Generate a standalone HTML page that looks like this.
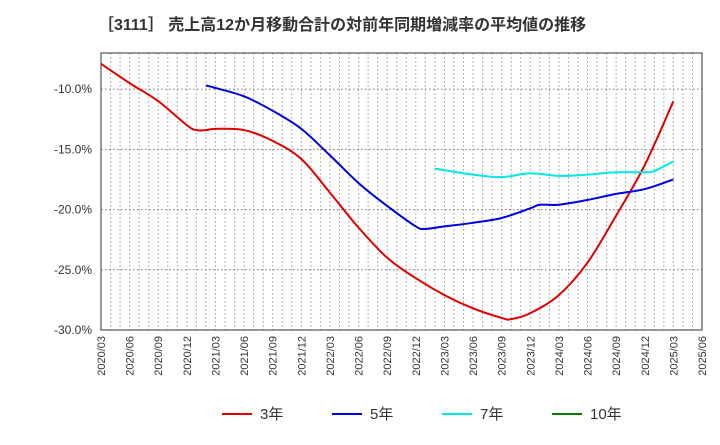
<!DOCTYPE html>
<html><head><meta charset="utf-8"><style>
body{margin:0;background:#fff;font-family:"Liberation Sans","Noto Sans CJK JP",sans-serif}
</style></head><body>
<svg id="c" width="720" height="440" xmlns="http://www.w3.org/2000/svg" font-family="Liberation Sans, Noto Sans CJK JP, sans-serif">
<text x="98" y="30" font-size="16" font-weight="bold" fill="#333">［3111］ 売上高12か月移動合計の対前年同期増減率の平均値の推移</text>
</svg>
<script>
const xTicks=["2020/03","2020/06","2020/09","2020/12","2021/03","2021/06","2021/09","2021/12","2022/03","2022/06","2022/09","2022/12","2023/03","2023/06","2023/09","2023/12","2024/03","2024/06","2024/09","2024/12","2025/03","2025/06"];
const yTicks=[-10,-15,-20,-25,-30];
const s3m=[0,3,6,9,10,11,12,15,18,21,24,27,30,33,36,39,42,43,45,48,51,54,57,60];
const s3v=[-7.9,-9.5,-11.0,-13.0,-13.4,-13.4,-13.3,-13.4,-14.3,-15.8,-18.6,-21.5,-24.0,-25.7,-27.1,-28.2,-29.0,-29.1,-28.6,-27.1,-24.4,-20.5,-16.3,-11.0];
const s5m=[11,12,15,18,21,24,27,30,33,34,36,39,42,45,46,48,51,54,57,60];
const s5v=[-9.7,-9.9,-10.6,-11.8,-13.3,-15.5,-17.8,-19.7,-21.4,-21.6,-21.4,-21.1,-20.7,-19.9,-19.6,-19.6,-19.2,-18.7,-18.3,-17.5];
const s7m=[35,39,42,45,48,51,54,57,58,60];
const s7v=[-16.6,-17.1,-17.3,-17.0,-17.2,-17.1,-16.9,-16.9,-16.8,-16.0];
const L=101,R=702,T=53,B=330,yMin=-30,yMax=-7.0,nM=63;
const X=m=>L+(R-L)*m/nM, Y=v=>B-(v-yMin)/(yMax-yMin)*(B-T);
const svg=document.getElementById('c'),NS="http://www.w3.org/2000/svg";
function mk(t,a,p){const e=document.createElementNS(NS,t);for(const k in a)e.setAttribute(k,a[k]);(p||svg).appendChild(e);return e;}
const g=mk('g',{});


for(let m=1;m<nM;m++)mk('line',{x1:X(m),x2:X(m),y1:T,y2:B,stroke:'#999','stroke-dasharray':'1.5,2.5','stroke-width':1},g);
yTicks.forEach(v=>{mk('line',{x1:L,x2:R,y1:Y(v),y2:Y(v),stroke:'#777','stroke-dasharray':'1.5,2.5'},g);
const t=mk('text',{x:L-9,y:Y(v)+4,'text-anchor':'end','font-size':12,fill:'#333'});t.textContent=v.toFixed(1)+'%';

});
const f=mk('rect',{x:L,y:T,width:R-L,height:B-T,fill:'none',stroke:'#333'});


xTicks.forEach((s,i)=>{const x=X(i*3);const t=mk('text',{transform:`translate(${x+4},${B+6}) rotate(-90)`,'text-anchor':'end','font-size':11,fill:'#333'});t.textContent=s;

});
function path(ms,vs){const p=ms.map((m,i)=>[X(m),Y(vs[i])]);let d=`M${p[0][0]},${p[0][1]}`;
for(let i=0;i<p.length-1;i++){const p0=p[Math.max(0,i-1)],p1=p[i],p2=p[i+1],p3=p[Math.min(p.length-1,i+2)];
d+=` C${p1[0]+(p2[0]-p0[0])/6},${p1[1]+(p2[1]-p0[1])/6} ${p2[0]-(p3[0]-p1[0])/6},${p2[1]-(p3[1]-p1[1])/6} ${p2[0]},${p2[1]}`;}return d;}
[[s3m,s3v,'#e00000','line-3y'],[s5m,s5v,'#0000e0','line-5y'],[s7m,s7v,'#00e8e8','line-7y']].forEach(([m,v,c,n])=>{
const e=mk('path',{d:path(m,v),fill:'none',stroke:c,'stroke-width':2});

});
[['3年','#e00000',222],['5年','#0000e0',332],['7年','#00e8e8',442],['10年','#008000',552]].forEach(([s,c,x])=>{
const lg=mk('g',{});


mk('line',{x1:x,x2:x+30,y1:414,y2:414,stroke:c,'stroke-width':2},lg);
const t=mk('text',{x:x+38,y:419,'font-size':15,fill:'#333'},lg);t.textContent=s;});
</script>
</body></html>
